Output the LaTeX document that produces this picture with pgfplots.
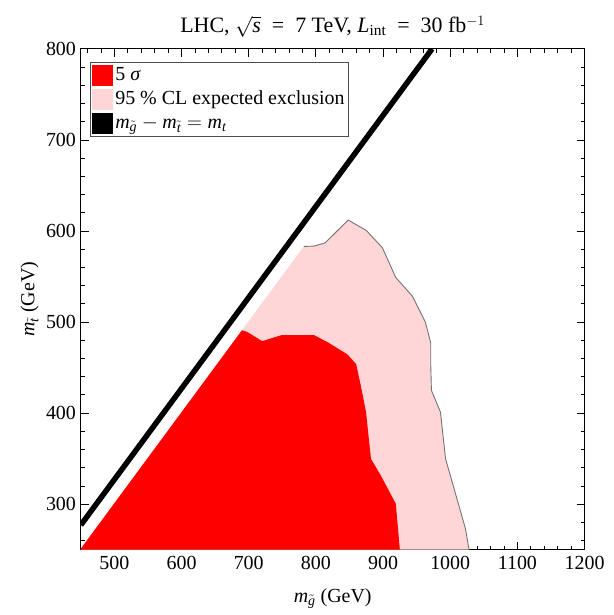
\documentclass[border=0pt]{standalone}
\usepackage{amsmath}
\usepackage{fontspec}
\setmainfont{Liberation Serif}
\usepackage{pgfplots}
\pgfplotsset{compat=1.18}

\definecolor{excl}{RGB}{255,214,216}
\definecolor{edge}{RGB}{115,115,115}
\newcommand{\mi}[1]{\textit{#1}}

\begin{document}
\fontsize{20}{24}\selectfont
\begin{tikzpicture}
\begin{axis}[
    name=ax,
    scale only axis,
    width=505pt, height=502pt,
    xmin=450, xmax=1200, ymin=250, ymax=800,
    xtick={500,600,...,1200},
    ytick={300,400,...,800},
    minor xtick={460,480,...,1180},
    minor ytick={260,280,...,780},
    tick pos=both,
    tick align=inside,
    major tick length=8pt,
    minor tick length=4pt,
    every tick/.style={black, line width=0.8pt},
    axis line style={black, line width=1pt},
    /pgf/number format/assume math mode=true,
    /pgf/number format/1000 sep={},
    title={LHC, $\sqrt{\mi{s}}$\enspace=\enspace7 TeV, $\mi{L}_{\text{int}}$\enspace=\enspace30 fb$^{-1}$},
    title style={font=\fontsize{22}{26}\selectfont, inner sep=0pt, yshift=5.5pt},
    xlabel={$\mi{m}_{\tilde{\mi{g}}}$ (GeV)},
    ylabel={$\mi{m}_{\tilde{\mi{t}}}$ (GeV)},
    xlabel style={yshift=-5pt},
    ylabel style={yshift=-6pt},
    yticklabel style={xshift=2pt},
    legend cell align=left,
    legend style={at={(0.018,0.974)}, anchor=north west,
        draw=black!70, line width=1pt, fill=white,
        inner xsep=2pt, inner ysep=1pt, row sep=0pt,
        nodes={inner sep=2pt, text height=15pt, text depth=5pt}},
]
% 95% CL expected exclusion
\addplot[fill=excl, draw=none, forget plot] coordinates {
    (449,250) (782,583) (797.5,583.4) (814,587) (848,612) (875,600.6)
    (899,581.6) (919,548.8) (943.5,528.6) (963,500) (971,477) (971,454)
    (972,425) (985.5,401) (993,350) (1022.7,273) (1028,250)
};
\addplot[edge, line width=0.9pt, forget plot] coordinates {
    (782,583) (797.5,583.4) (814,587) (848,612) (875,600.6)
    (899,581.6) (919,548.8) (943.5,528.6) (963,500) (971,477) (971,454)
    (972,425) (985.5,401) (993,350) (1022.7,273) (1028,250)
};
% 5 sigma
\addplot[fill=red, draw=none, forget plot] coordinates {
    (449,250) (690,491) (698,489) (720,479) (748.5,485.5) (797.5,485.5)
    (817,478) (846.5,464.7) (860,453.8) (867,429.7) (874.7,401)
    (882,349.7) (897,331) (919,300.4) (925,250)
};
% kinematic limit m_gluino - m_stop = m_top
\addplot[black, line width=5.5pt, forget plot] coordinates {
    (450,277) (973,800)
};

\addlegendimage{legend image code/.code={\fill[red] (0pt,-10pt) rectangle (20pt,10pt);}}
\addlegendentry{5 \mi{σ}}
\addlegendimage{legend image code/.code={\fill[excl] (0pt,-10pt) rectangle (20pt,10pt);}}
\addlegendentry{95~\% CL expected exclusion}
\addlegendimage{legend image code/.code={\fill[black] (0pt,-10pt) rectangle (20pt,10pt);}}
\addlegendentry{$\mi{m}_{\tilde{\mi{g}}} - \mi{m}_{\tilde{\mi{t}}} = \mi{m}_{\mi{t}}$}
\end{axis}
\path ([shift={(-81pt,-57pt)}]ax.south west) rectangle ([shift={(29pt,49pt)}]ax.north east);
\end{tikzpicture}
\end{document}
